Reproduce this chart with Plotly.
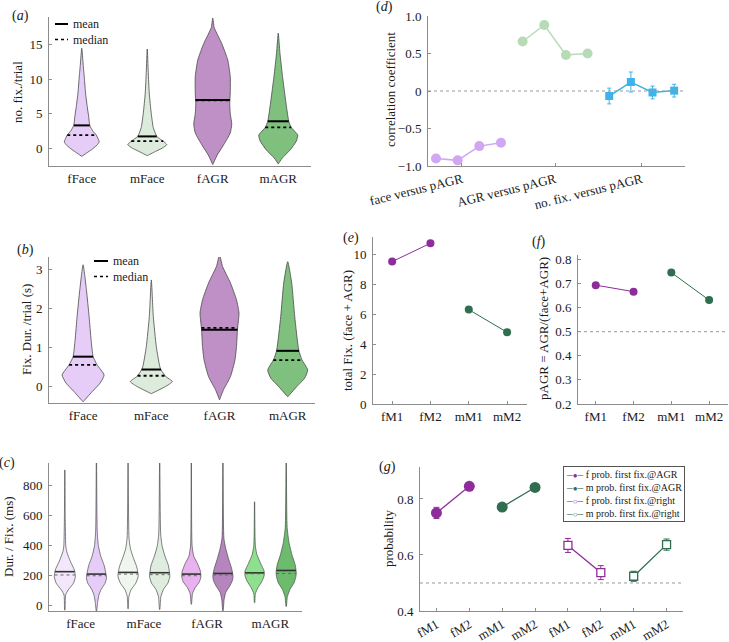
import numpy as np
import plotly.graph_objects as go

W, H = 729, 642
SERIF = "Liberation Serif, Times New Roman, serif"

# ---------------- data ----------------
CATS4 = ["fFace", "mFace", "fAGR", "mAGR"]

# (a) no. fix./trial  -- violin outlines: value levels and relative density (half-width)
A_COLORS = ["#e6cdf7", "#ddebdd", "#bf90c6", "#7fc07f"]
A_MEAN = [3.3, 1.7, 7.0, 3.9]
A_MEDIAN = [1.9, 1.0, 6.95, 3.0]
A_LEVELS = [
    [14.5, 12, 10, 8, 6, 4.5, 3.3, 2.5, 1.9, 1.3, 0.9, 0.4, -0.2, -0.7, -1.2],
    [14.4, 11, 8, 5, 3, 2, 1.7, 1.3, 1.0, 0.5, 0.0, -0.5, -1.1],
    [18.9, 17.5, 15.2, 12.8, 10.4, 8.0, 6.5, 5.0, 3.5, 2.2, 0.5, -1.0, -2.4],
    [16.7, 13.8, 10.4, 7.0, 3.9, 3.0, 1.9, 1.0, -0.25, -1.45, -2.3],
]
A_DENS = [
    [0, 1.5, 2.7, 3.8, 5.5, 7, 8, 11, 14.5, 16.5, 17.5, 15, 10, 5, 0],
    [0, 1, 2, 4, 6, 8.5, 9.5, 13, 16, 19.5, 15, 8, 0],
    [0, 1.5, 9, 15, 17.5, 17.5, 17, 17.5, 19, 17.5, 11, 4.5, 0],
    [0, 1.7, 4.3, 7.3, 10.5, 13, 19.5, 18, 12, 4, 0],
]

# (b) Fix. Dur./trial (s)
B_COLORS = A_COLORS
B_MEAN = [0.77, 0.44, 1.46, 0.92]
B_MEDIAN = [0.56, 0.28, 1.51, 0.68]
B_LEVELS = [
    [3.13, 2.49, 1.8, 1.2, 0.77, 0.56, 0.3, 0.09, -0.13, -0.39],
    [2.74, 1.8, 1.03, 0.47, 0.27, 0.13, 0.0, -0.18],
    [3.39, 3.09, 2.66, 2.23, 1.89, 1.48, 1.03, 0.69, 0.26, -0.08, -0.34],
    [3.21, 2.66, 1.8, 0.94, 0.7, 0.43, 0.22, 0.0, -0.26],
]
B_DENS = [
    [0, 3.3, 6, 8, 10, 14, 21, 17, 9, 0],
    [0, 2, 5, 9, 14, 21, 14, 0],
    [0, 3, 11, 17, 19.5, 18, 17, 15.5, 11, 4, 0],
    [0, 4, 7, 11, 14, 20, 17, 9, 0],
]

# (c) Dur./Fix. (ms), two violins per category
C_COLORS = ["#f3e7fb", "#e6cdf7", "#eef6ee", "#dfeddf",
            "#e8b2ee", "#b585bd", "#8ee08e", "#6dbb6d"]
C_MEAN = [227, 211, 222, 220, 211, 215, 219, 235]
C_MEDIAN = [205, 200, 211, 207, 200, 205, 213, 215]
C_LEVELS = [
    [905, 600, 400, 360, 293, 238, 193, 150, 105, 71, -29],
    [1000, 500, 400, 330, 270, 210, 185, 150, 110, 70, 20, -35],
    [1000, 450, 380, 320, 260, 210, 193, 150, 105, 60, -20],
    [1000, 480, 400, 330, 270, 210, 190, 150, 110, 60, -25],
    [1000, 400, 330, 280, 230, 193, 160, 120, 80, 10],
    [1000, 450, 380, 310, 250, 200, 170, 130, 90, 40, -35],
    [693, 400, 340, 280, 230, 200, 160, 120, 80, 20],
    [1000, 520, 420, 340, 270, 220, 190, 150, 110, 60, -5],
]
C_DENS = [
    [0.15, 0.4, 1.0, 2, 6, 10, 11, 9, 3.5, 0.8, 0.15],
    [0.15, 0.8, 2.0, 4.5, 8, 10, 10.5, 9, 5, 2.5, 1.2, 0.15],
    [0.15, 1.0, 2.5, 5.5, 9, 10.5, 10.5, 8, 3, 0.8, 0.15],
    [0.15, 1.0, 2.5, 5.5, 9, 10.5, 10.5, 8.5, 4, 1.2, 0.15],
    [0.15, 0.8, 2.5, 6.5, 9.5, 10, 8.5, 4, 1.2, 0.15],
    [0.15, 1.0, 3.0, 6.0, 9, 10.5, 10, 7, 3, 1.2, 0.15],
    [0.15, 0.8, 2.5, 6.5, 10, 10, 7.5, 3.5, 0.8, 0.15],
    [0.15, 1.0, 3.0, 6.0, 9.5, 10.5, 10, 8, 4, 1.2, 0.15],
]

# (d) correlation coefficients
D_LABELS = ["face versus pAGR", "AGR versus pAGR", "no. fix. versus pAGR"]
D_FACE = [-0.90, -0.925, -0.735, -0.69]
D_AGR = [0.66, 0.88, 0.48, 0.50]
D_NFIX = [-0.067, 0.12, -0.02, 0.005]
D_NFIX_ERR = [0.105, 0.133, 0.085, 0.085]

# (e) total Fix., (f) pAGR
M_CATS = ["fM1", "fM2", "mM1", "mM2"]
E_F = [9.55, 10.78]
E_M = [6.33, 4.81]
F_F = [0.693, 0.666]
F_M = [0.745, 0.631]

# (g) probabilities
G_CATS = ["fM1", "fM2", "mM1", "mM2", "fM1", "fM2", "mM1", "mM2"]
G_F_AGR = [0.750, 0.845]
G_F_AGR_ERR = [0.02, 0.01]
G_M_AGR = [0.771, 0.841]
G_M_AGR_ERR = [0.01, 0.01]
G_F_RIGHT = [0.634, 0.537]
G_F_RIGHT_ERR = [0.025, 0.025]
G_M_RIGHT = [0.524, 0.637]
G_M_RIGHT_ERR = [0.018, 0.02]

PURPLE = "#8e2d9a"
DGREEN = "#2f6e4f"
D_PURPLE = "#d1a6f2"
D_GREEN = "#b7dbb7"
D_BLUE = "#3db3ea"

fig = go.Figure()


def violin(xc, levels, dens, scale, color, xa, ya, lw=0.8):
    ys = np.array(levels, float)
    ds = np.array(dens, float) * scale
    x = np.concatenate([xc + ds, (xc - ds)[::-1]])
    y = np.concatenate([ys, ys[::-1]])
    fig.add_trace(go.Scatter(x=x, y=y, mode="lines", fill="toself", fillcolor=color,
                             line=dict(color="#4a4a4a", width=lw, shape="spline", smoothing=0.5),
                             xaxis=xa, yaxis=ya, showlegend=False, hoverinfo="skip"))
    return ys, ds


def stat_line(xc, ys, ds, val, xa, ya, color, width, dash):
    hw = np.interp(val, ys[::-1], ds[::-1])
    fig.add_trace(go.Scatter(x=[xc - hw, xc + hw], y=[val, val], mode="lines",
                             line=dict(color=color, width=width, dash=dash),
                             xaxis=xa, yaxis=ya, showlegend=False, hoverinfo="skip"))


# (a)
for i in range(4):
    ys, ds = violin(i + 1, A_LEVELS[i], A_DENS[i], 1 / 65.5, A_COLORS[i], "x", "y")
    stat_line(i + 1, ys, ds, A_MEAN[i], "x", "y", "black", 2, "solid")
    stat_line(i + 1, ys, ds, A_MEDIAN[i], "x", "y", "black", 1.8, "dot")

# (b)
for i in range(4):
    ys, ds = violin(i + 1, B_LEVELS[i], B_DENS[i], 1 / 68.2, B_COLORS[i], "x2", "y2")
    stat_line(i + 1, ys, ds, B_MEAN[i], "x2", "y2", "black", 2, "solid")
    stat_line(i + 1, ys, ds, B_MEDIAN[i], "x2", "y2", "black", 1.8, "dot")

# (c)
for i in range(8):
    ys, ds = violin(i + 1, C_LEVELS[i], C_DENS[i], 1 / 33.0, C_COLORS[i], "x3", "y3", lw=0.7)
    stat_line(i + 1, ys, ds, C_MEAN[i], "x3", "y3", "#333333", 1.6, "solid")
    stat_line(i + 1, ys, ds, C_MEDIAN[i], "x3", "y3", "#666666", 1, "dot")

# (d)
fig.add_trace(go.Scatter(x=[1, 2, 3, 4], y=D_FACE, mode="lines+markers", xaxis="x4", yaxis="y4",
                         line=dict(color=D_PURPLE, width=1.5), marker=dict(size=10, color=D_PURPLE),
                         showlegend=False))
fig.add_trace(go.Scatter(x=[5, 6, 7, 8], y=D_AGR, mode="lines+markers", xaxis="x4", yaxis="y4",
                         line=dict(color=D_GREEN, width=1.5), marker=dict(size=10, color=D_GREEN),
                         showlegend=False))
fig.add_trace(go.Scatter(x=[9, 10, 11, 12], y=D_NFIX, mode="lines+markers", xaxis="x4", yaxis="y4",
                         line=dict(color=D_BLUE, width=1.5),
                         marker=dict(size=8, color=D_BLUE, symbol="square"),
                         error_y=dict(type="data", array=D_NFIX_ERR, color=D_BLUE, thickness=1, width=2),
                         showlegend=False))

# (e)
fig.add_trace(go.Scatter(x=[1, 2], y=E_F, mode="lines+markers", xaxis="x5", yaxis="y5",
                         line=dict(color=PURPLE, width=1), marker=dict(size=8, color=PURPLE), showlegend=False))
fig.add_trace(go.Scatter(x=[3, 4], y=E_M, mode="lines+markers", xaxis="x5", yaxis="y5",
                         line=dict(color=DGREEN, width=1), marker=dict(size=8, color=DGREEN), showlegend=False))
# (f)
fig.add_trace(go.Scatter(x=[1, 2], y=F_F, mode="lines+markers", xaxis="x6", yaxis="y6",
                         line=dict(color=PURPLE, width=1), marker=dict(size=8, color=PURPLE), showlegend=False))
fig.add_trace(go.Scatter(x=[3, 4], y=F_M, mode="lines+markers", xaxis="x6", yaxis="y6",
                         line=dict(color=DGREEN, width=1), marker=dict(size=8, color=DGREEN), showlegend=False))

# (g)
for xs, ys, err, col, filled in [([1, 2], G_F_AGR, G_F_AGR_ERR, PURPLE, True),
                                 ([3, 4], G_M_AGR, G_M_AGR_ERR, DGREEN, True),
                                 ([5, 6], G_F_RIGHT, G_F_RIGHT_ERR, PURPLE, False),
                                 ([7, 8], G_M_RIGHT, G_M_RIGHT_ERR, DGREEN, False)]:
    if filled:
        mk = dict(size=11, color=col, symbol="circle")
    else:
        mk = dict(size=8, color="white", symbol="square", line=dict(color=col, width=1.3))
    fig.add_trace(go.Scatter(x=xs, y=ys, mode="lines+markers", xaxis="x7", yaxis="y7",
                             line=dict(color=col, width=1.3), marker=mk,
                             error_y=dict(type="data", array=err, color=col, thickness=1, width=3),
                             showlegend=False))


# ---------------- layout ----------------
def dx(x0, x1):
    return [x0 / W, x1 / W]


def dy(y0, y1):
    return [1 - y1 / H, 1 - y0 / H]


AX = dict(showline=True, linecolor="#8c8c8c", linewidth=1, showgrid=False, zeroline=False,
          ticks="inside", ticklen=3, tickcolor="#8c8c8c", automargin=False,
          tickfont=dict(family=SERIF, size=13, color="#1a1a1a"), fixedrange=True)

panels = {
    # id: (xdom px, ydom px, xrange, yrange)
    "": ((49, 311), (17, 166), [0.5, 4.5], [-2.6, 19.05]),
    "2": ((49, 315), (257, 403), [0.5, 4.4], [-0.42, 3.33]),
    "3": ((49, 302), (463, 611), [0.5, 8.5], [-35, 951]),
    "4": ((428, 685), (16, 166), [0.63, 12.5], [-1.0, 1.0]),
    "5": ((373, 527), (237, 404), [0.5, 4.52], [0, 11.2]),
    "6": ((578, 728), (255, 404), [0.53, 4.5], [0.2, 0.818]),
    "7": ((420, 683), (467, 611), [0.5, 8.5], [0.4, 0.914]),
}
xticks = {
    "": (dict(tickvals=[1, 2, 3, 4], ticktext=CATS4, ticks="")),
    "2": (dict(tickvals=[1, 2, 3, 4], ticktext=CATS4, ticks="")),
    "3": (dict(tickvals=[1.5, 3.5, 5.5, 7.5], ticktext=CATS4, ticks="")),
    "4": (dict(tickvals=[2.2, 6.5, 10.5], ticktext=D_LABELS, tickangle=-14)),
    "5": (dict(tickvals=[1, 2, 3, 4], ticktext=M_CATS)),
    "6": (dict(tickvals=[1, 2, 3, 4], ticktext=M_CATS)),
    "7": (dict(tickvals=list(range(1, 9)), ticktext=G_CATS, tickangle=-30)),
}
yticks = {
    "": dict(tickvals=[0, 5, 10, 15]),
    "2": dict(tickvals=[0, 1, 2, 3]),
    "3": dict(tickvals=[0, 200, 400, 600, 800]),
    "4": dict(tickvals=[-1, -0.5, 0, 0.5, 1], ticktext=["\u22121.0", "\u22120.5", "0", "0.5", "1.0"]),
    "5": dict(tickvals=[0, 2, 4, 6, 8, 10]),
    "6": dict(tickvals=[0.2, 0.3, 0.4, 0.5, 0.6, 0.7, 0.8],
              ticktext=["0.2", "0.3", "0.4", "0.5", "0.6", "0.7", "0.8"]),
    "7": dict(tickvals=[0.4, 0.6, 0.8], ticktext=["0.4", "0.6", "0.8"]),
}

layout = dict(width=W, height=H, margin=dict(l=0, r=0, t=0, b=0, autoexpand=False),
              paper_bgcolor="white", plot_bgcolor="white", showlegend=False,
              font=dict(family=SERIF, size=13, color="#1a1a1a"))
for k, (xd, yd, xr, yr) in panels.items():
    xa = dict(AX, domain=dx(*xd), range=xr, anchor="y" + k, **xticks[k])
    ya = dict(AX, domain=dy(*yd), range=yr, anchor="x" + k, ticklabelstandoff=3, **yticks[k])
    layout["xaxis" + k] = xa
    layout["yaxis" + k] = ya
fig.update_layout(**layout)

# dotted reference lines
for k, val in [("4", 0), ("6", 0.5), ("7", 0.5)]:
    fig.add_shape(type="line", xref=f"x{k} domain", yref=f"y{k}", x0=0, x1=1, y0=val, y1=val,
                  line=dict(color="#9a9a9a", width=1, dash="dot"))

# y-axis titles
YT = [("no. fix./trial", 17, 92), ("Fix. Dur. /trial (s)", 27, 330), ("Dur. / Fix. (ms)", 8, 537),
      ("correlation coefficient", 390, 90), ("total Fix. (face + AGR)", 347, 331),
      ("pAGR = AGR/(face+AGR)", 543, 329), ("probability", 388, 538)]
for txt, px, py in YT:
    fig.add_annotation(text=txt, x=px / W, y=1 - py / H, xref="paper", yref="paper",
                       textangle=-90, showarrow=False, xanchor="center", yanchor="middle",
                       font=dict(family=SERIF, size=13, color="#1a1a1a"))

# panel letters
for lt, px, py in [("a", 20, 16), ("b", 25, 250), ("c", 7, 463), ("d", 384, 7),
                   ("e", 351, 238), ("f", 539, 242), ("g", 387, 467)]:
    fig.add_annotation(text=f"(<i>{lt}</i>)", x=px / W, y=1 - py / H, xref="paper", yref="paper",
                       showarrow=False, xanchor="center", yanchor="middle",
                       font=dict(family=SERIF, size=14, color="#1a1a1a"))

# mean / median keys in (a) and (b): one two-line text block each
for lx0, lx1, tx, ytop in [(55, 68, 72, 16), (94, 108, 112, 253)]:
    fig.add_annotation(text="mean<br>median", x=tx / W, y=1 - ytop / H, xref="paper", yref="paper",
                       showarrow=False, xanchor="left", yanchor="top", align="left", borderpad=0,
                       font=dict(family=SERIF, size=12, color="#1a1a1a"))
    ym, yd_ = ytop + 8, ytop + 23.5
    fig.add_shape(type="line", xref="paper", yref="paper", x0=lx0 / W, x1=lx1 / W,
                  y0=1 - ym / H, y1=1 - ym / H, line=dict(color="black", width=2))
    fig.add_shape(type="line", xref="paper", yref="paper", x0=lx0 / W, x1=lx1 / W,
                  y0=1 - yd_ / H, y1=1 - yd_ / H, line=dict(color="black", width=1.5, dash="dot"))

# legend for (g)
SYM = "<span style='color:{c};font-size:8px'>\u2500{m}\u2500</span>"
leg = "<br>".join([
    SYM.format(c=PURPLE, m="\u25cf") + " f prob. first fix.@AGR",
    SYM.format(c=DGREEN, m="\u25cf") + " m prob. first fix.@AGR",
    SYM.format(c=PURPLE, m="\u25cb") + " f prob. first fix.@right",
    SYM.format(c=DGREEN, m="\u25cb") + " m prob. first fix.@right",
])
fig.add_annotation(text=leg, x=563 / W, y=1 - 466 / H, xref="paper", yref="paper",
                   showarrow=False, xanchor="left", yanchor="top", align="left",
                   bgcolor="white", bordercolor="#555555", borderwidth=1, borderpad=2,
                   font=dict(family=SERIF, size=10, color="#1a1a1a"))

fig.write_html("out.html", config={"displayModeBar": False},
               post_script="document.body.style.margin='0px';document.body.style.padding='0px';"
                           "document.documentElement.style.overflow='hidden';")
